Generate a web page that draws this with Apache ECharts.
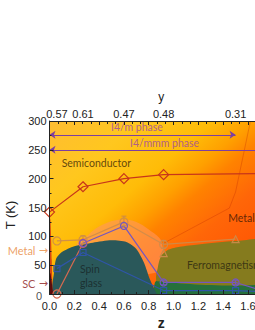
<!DOCTYPE html>
<html><head><meta charset="utf-8">
<script src="https://cdn.jsdelivr.net/npm/echarts@6/dist/echarts.min.js"></script>
<style>html,body{margin:0;padding:0;background:#fff}#c{width:255px;height:330px}</style>
</head><body><div id="c"></div>
<script>
// ---------- data ----------
const topZ = [0.06, 0.27, 0.6, 0.92, 1.5];
const topLabels = ['0.57', '0.61', '0.47', '0.48', '0.31'];

const redZ = [0, 0.27, 0.6, 0.92, 1.8];
const redT = [142, 186, 200, 207, 209];

const orangeZ = [0.06, 0.27, 0.6, 0.92, 1.5];
const orangeT = [92, 94, 125, 86, 95];
const orangeErr = [0, 7, 10, 7, 0];
const triZ = [0.92];
const triT = [71];

const pinkZ = [0.06, 0.27];
const pinkT = [0, 88];

const purpleZ = [0.27, 0.6, 0.92, 1.5, 1.8];
const purpleT = [88, 118, 20, 20, 0];
const purpleErr = [0, 0, 4, 4, 0];

const blueZ = [0.06, 0.27, 0.92, 1.5, 1.8];
const blueT = [44, 72, 6, 6, 3];

const boundary = [[0.92, 88], [1.45, 149], [1.5, 177], [1.62, 300]];

const phaseNames = ['I4/m phase', 'I4/mmm phase'];
const phaseFrom = [0, 0];
const phaseTo = [1.5, 1.8];
const phaseT = [276, 250];
const phaseLabelZ = [0.705, 0.927];
const phaseLabelT = [289, 261];

const regionNames = ['Semiconductor', 'Metal', 'Ferromagnetism', 'Spin', 'glass'];
const regionZ = [0.098, 1.44, 1.108, 0.245, 0.245];
const regionT = [228, 131, 51, 43, 19];

const sideNames = ['Metal', 'SC'];
const sideT = [76, 18.5];

// region outlines (z, T)
const dome = [[0.22, 86], [0.3, 100], [0.37, 113], [0.47, 124], [0.58, 129], [0.7, 125], [0.8, 112], [0.9, 92], [0.9, 40], [0.3, 40]];
const greenBand = [[0.84, -10], [0.85, 20], [0.9, 28], [1.0, 26], [1.5, 24], [1.85, 22], [1.85, -10]];
const ferro = [[0.87, 22], [0.875, 48], [0.9, 66], [0.96, 77], [1.05, 82], [1.2, 86], [1.5, 92], [1.85, 93], [1.85, 22]];
const spinGlass = [[0.035, -10], [0.038, 40], [0.055, 62], [0.1, 73], [0.2, 83], [0.35, 89], [0.5, 93], [0.62, 90], [0.7, 78], [0.76, 55], [0.81, 25], [0.855, 4], [0.88, -10]];
const redStrip = [[-0.01, -10], [-0.01, 140], [0.008, 128], [0.018, 60], [0.025, -10]];
const scRegion = [[-0.01, -10], [-0.01, 34], [0.008, 36], [0.024, 10], [0.035, -10]];

// ---------- helpers ----------
const FONT = 'Liberation Sans';
const LFONT = 'Lato';
function poly(points, fill, z, smooth) {
  return {
    type: 'custom', coordinateSystem: 'cartesian2d', clip: true, silent: true, z: z,
    data: [points[0]],
    renderItem: (p, api) => ({
      type: 'polygon',
      shape: { points: points.map(q => api.coord(q)), smooth: smooth },
      style: { fill: fill }
    })
  };
}
function errBars(zs, ts, es, color, z) {
  const d = [];
  zs.forEach((v, i) => { if (es[i] > 0) d.push([v, ts[i] - es[i], ts[i] + es[i]]); });
  return {
    type: 'custom', coordinateSystem: 'cartesian2d', silent: true, z: z, data: d,
    encode: { x: 0, y: [1, 2] },
    renderItem: (p, api) => {
      const a = api.coord([api.value(0), api.value(1)]);
      const b = api.coord([api.value(0), api.value(2)]);
      const st = { stroke: color, lineWidth: 1 };
      return {
        type: 'group', children: [
          { type: 'line', shape: { x1: a[0], y1: a[1], x2: b[0], y2: b[1] }, style: st },
          { type: 'line', shape: { x1: a[0] - 2.5, y1: a[1], x2: a[0] + 2.5, y2: a[1] }, style: st },
          { type: 'line', shape: { x1: b[0] - 2.5, y1: b[1], x2: b[0] + 2.5, y2: b[1] }, style: st }
        ]
      };
    }
  };
}
function lineSeries(zs, ts, color, symbol, size, z, lastNone) {
  return {
    type: 'line', z: z, silent: true,
    data: zs.map((v, i) => (lastNone && i === zs.length - 1) ? { value: [v, ts[i]], symbol: 'none' } : [v, ts[i]]),
    symbol: symbol, symbolSize: size, showSymbol: true,
    lineStyle: { color: color, width: 1.2 },
    itemStyle: { color: 'rgba(0,0,0,0)', borderColor: color, borderWidth: 1.2 }
  };
}

const chart = echarts.init(document.getElementById('c'), null, { renderer: 'svg' });

const regionColors = ['#3a2608', '#3a1606', '#2a2610', '#182626', '#182626'];
const textData = regionNames.map((n, i) => ({
  value: [regionZ[i], regionT[i]],
  label: {
    show: true, formatter: n, position: 'inside', align: 'left', verticalAlign: 'middle',
    fontFamily: LFONT, fontSize: 10.5, color: regionColors[i]
  }
}));
phaseNames.forEach((n, i) => textData.push({
  value: [phaseLabelZ[i], phaseLabelT[i]],
  label: { show: true, formatter: n, position: 'inside', align: 'center', verticalAlign: 'middle', fontFamily: LFONT, fontSize: 10.5, color: '#9a46a6' }
}));
const sideColors = ['#e8883c', '#8b1a1a'];
sideNames.forEach((n, i) => textData.push({
  value: [-0.012, sideT[i]],
  label: {
    show: true, formatter: '{t|' + n + '} {a|→}', position: 'inside', align: 'right', verticalAlign: 'middle',
    lineHeight: 9,
    rich: {
      t: { fontFamily: LFONT, fontSize: 11, color: sideColors[i], lineHeight: 9 },
      a: { fontFamily: 'DejaVu Sans', fontSize: 11, color: sideColors[i], lineHeight: 9 }
    }
  }
}));
// the "0" tick label of the T axis sits slightly below the axis, left of "0.0"
textData.push({
  value: [-0.06, -3.5],
  label: { show: true, formatter: '0', position: 'inside', align: 'right', verticalAlign: 'middle', lineHeight: 9, fontFamily: FONT, fontSize: 11, color: '#222' }
});

const option = {
  animation: false,
  backgroundColor: '#fff',
  grid: {
    left: 49.5, top: 121, width: 223.3, height: 173, show: true, borderWidth: 0,
    outerBoundsMode: 'none', containLabel: false,
    backgroundColor: {
      type: 'linear', x: 0, y: 0, x2: 1, y2: 0.91,
      colorStops: [
        { offset: 0, color: '#ffbd32' },
        { offset: 0.22, color: '#ffc71e' },
        { offset: 0.4, color: '#ffbc08' },
        { offset: 0.5, color: '#ffa000' },
        { offset: 0.57, color: '#ff8200' },
        { offset: 0.7, color: '#ff6608' },
        { offset: 1, color: '#ff4a00' }
      ]
    }
  },
  xAxis: [{
    type: 'value', min: 0, max: 1.8, interval: 0.2, position: 'bottom', z: 10,
    name: 'z', nameLocation: 'middle', nameGap: 18,
    nameTextStyle: { fontFamily: FONT, fontSize: 14, fontWeight: 'bold', color: '#222' },
    axisLine: { show: true, lineStyle: { color: '#222' } },
    axisTick: { show: true, inside: true, length: 4, lineStyle: { color: '#222' } },
    minorTick: { show: true, splitNumber: 2, length: 2, lineStyle: { color: '#222' } },
    axisLabel: { fontFamily: FONT, fontSize: 11, lineHeight: 11, color: '#222', margin: 6, formatter: v => v.toFixed(1) },
    splitLine: { show: false }
  }, {
    type: 'value', min: 0, max: 1.8, interval: 0.2, position: 'top', z: 10,
    name: 'y', nameLocation: 'middle', nameGap: 17,
    nameTextStyle: { fontFamily: FONT, fontSize: 12, color: '#222' },
    axisLine: { show: true, lineStyle: { color: '#222' } },
    axisTick: { show: true, inside: true, length: 4, lineStyle: { color: '#222' } },
    minorTick: { show: true, splitNumber: 3, length: 3, lineStyle: { color: '#222' } },
    axisLabel: {
      fontFamily: FONT, fontSize: 11, color: '#222', margin: 2,
      customValues: topZ,
      formatter: v => { const k = topZ.indexOf(v); return k >= 0 ? topLabels[k] : ''; }
    },
    splitLine: { show: false }
  }],
  yAxis: {
    type: 'value', min: 0, max: 300, interval: 50, z: 10,
    name: 'T (K)', nameLocation: 'middle', nameGap: 27,
    nameTextStyle: { fontFamily: FONT, fontSize: 13, color: '#222', padding: [0, 15, 0, 0] },
    axisLine: { show: true, lineStyle: { color: '#222' } },
    axisTick: { show: true, inside: true, length: 4, lineStyle: { color: '#222' } },
    minorTick: { show: true, splitNumber: 2, length: 2, lineStyle: { color: '#222' } },
    axisLabel: { fontFamily: FONT, fontSize: 11, color: '#222', margin: 3, formatter: v => v === 0 ? '' : String(v) },
    splitLine: { show: false }
  },
  series: [
    poly(dome, 'rgba(255,150,95,0.6)', 1, 0.3),
    {
      type: 'line', z: 1, silent: true, data: boundary, symbol: 'none',
      lineStyle: { color: 'rgba(190,40,0,0.3)', width: 1 }
    },
    poly(greenBand, '#25703c', 2, 0.15),
    poly(ferro, '#857b1e', 2, 0.25),
    poly(spinGlass, '#2a585a', 2, 0.25),
    poly(redStrip, '#d8480f', 2, 0.1),
    poly(scRegion, '#5c0b0b', 2, 0.1),
    {
      type: 'lines', coordinateSystem: 'cartesian2d', z: 4, silent: true,
      symbol: ['arrow', 'arrow'], symbolSize: 6,
      lineStyle: { color: '#7d3fa0', width: 1.2, opacity: 1 },
      data: [{ coords: [[phaseFrom[0], phaseT[0]], [phaseTo[0], phaseT[0]]] }]
    },
    {
      type: 'lines', coordinateSystem: 'cartesian2d', z: 4, silent: true,
      symbol: ['arrow', 'none'], symbolSize: 6,
      lineStyle: { color: '#7d3fa0', width: 1.2, opacity: 1 },
      data: [{ coords: [[phaseFrom[1], phaseT[1]], [phaseTo[1], phaseT[1]]] }]
    },
    errBars(orangeZ, orangeT, orangeErr, '#c98a4a', 5),
    errBars(purpleZ, purpleT, purpleErr, '#7556c0', 5),
    lineSeries(orangeZ, orangeT, 'rgba(205,140,75,0.9)', 'circle', 8, 6, false),
    lineSeries(triZ, triT, '#c98a4a', 'triangle', 7, 6, false),
    lineSeries(pinkZ, pinkT, '#d86a50', 'circle', 8, 6, false),
    lineSeries(purpleZ, purpleT, '#7556c0', 'circle', 7, 6, true),
    lineSeries(blueZ, blueT, '#2f55a8', 'rect', 6, 6, true),
    lineSeries(redZ, redT, '#c8361a', 'diamond', 10, 7, true),
    {
      type: 'scatter', z: 8, silent: true, clip: false, symbolSize: 0, data: textData
    }
  ]
};
// orange series ends at the triangle marker
option.series[11].data[4] = { value: [orangeZ[4], orangeT[4]], symbol: 'triangle', symbolSize: 7 };
chart.setOption(option);
</script></body></html>
